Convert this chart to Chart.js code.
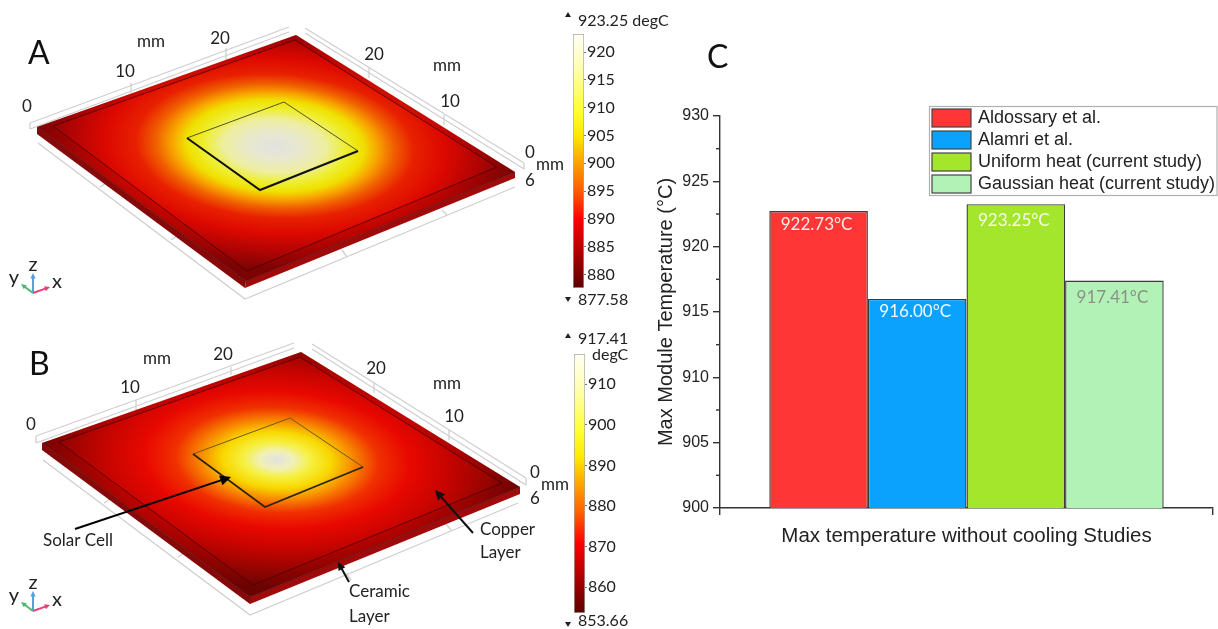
<!DOCTYPE html>
<html>
<head>
<meta charset="utf-8">
<title>Max module temperature</title>
<script src="https://cdn.jsdelivr.net/npm/chart.js@4/dist/chart.umd.min.js"></script>
<style>
  html, body { margin: 0; padding: 0; background: #fff; overflow: hidden; }
  canvas { position: absolute; filter: blur(0.45px); }
  #panels { left: 0; top: 0; }
  #barChart { left: 0; top: 0; }
  #barA { left: 560px; top: 34px; }
  #barB { left: 561px; top: 354px; }
</style>
</head>
<body>
<canvas id="panels" width="700" height="629"></canvas>
<canvas id="barA" width="70" height="254"></canvas>
<canvas id="barB" width="70" height="259"></canvas>
<canvas id="barChart" width="1218" height="629"></canvas>
<script>
// bar chart values
const categories = [''];
const aldossary = [922.73];
const alamri = [916.00];
const uniformHeat = [923.25];
const gaussianHeat = [917.41];
const yTicksMinor = [902.5, 907.5, 912.5, 917.5, 922.5, 927.5];

// colour bars
const ticksA = [880, 885, 890, 895, 900, 905, 910, 915, 920];
const rangeA = [877.58, 923.25];
const ticksB = [860, 870, 880, 890, 900, 910];
const rangeB = [853.66, 917.41];

const labelFont = 'Lato, "Open Sans", sans-serif';
const axisFont = '"Liberation Sans", Arial, sans-serif';

// plate A and B
const plateA = {
  top: [296, 35], right: [515, 172], front: [246, 281], left: [37, 127],
  rightLow: [515, 178], frontLow: [245, 288], leftLow: [37, 134],
  inner: [[295, 40], [497, 167], [247, 271], [53, 126]],
  centre: [275, 146],
  cell: [[284, 102], [358, 151], [260, 190], [187, 138]],
  cellBack: '#55551a', cellFront: '#111', cellBackWidth: 1, cellFrontWidth: 2,
  heat: [[0, '#e2e2e0'], [0.15, '#e8e8d0'], [0.3, '#eeeea0'], [0.42, '#eeee30'], [0.52, '#f0e000'],
         [0.6, '#f8a800'], [0.7, '#f06000'], [0.82, '#e82000'], [1.0, '#dc0800'], [1.2, '#b00404'], [1.4, '#800404']],
  guideBack: [[[30, 123], [289, 27]], [[30, 129], [289, 32]], [[305, 28], [524, 163]], [[305, 33], [524, 169]]],
  guideFront: [[38, 143], [245, 299], [515, 187]],
  ticks: [[131, 83, 131, 93], [226, 48, 226, 60], [369, 68, 369, 78], [444, 115, 444, 125],
          [100, 187, 106, 183], [171, 240, 177, 236], [347, 257, 342, 250], [447, 215, 442, 210]],
  labels: [['0', 27, 107], ['10', 125, 72], ['20', 220, 39], ['mm', 151, 42], ['20', 374, 55],
           ['mm', 447, 66], ['10', 450, 102], ['0', 530, 153], ['mm', 550, 165], ['6', 530, 181]],
  triad: [33, 293]
};
const plateB = {
  top: [301, 352], right: [520, 487], front: [250, 597], left: [42, 443],
  rightLow: [520, 494], frontLow: [250, 604], leftLow: [42, 450],
  inner: [[300, 357], [502, 483], [253, 585], [59, 442]],
  centre: [277, 460],
  cell: [[290, 418], [363, 467], [265, 507], [193, 454]],
  cellBack: '#6e5a10', cellFront: '#2a2208', cellBackWidth: 1, cellFrontWidth: 1.6,
  heat: [[0, '#e2e2e2'], [0.1, '#f0f0b8'], [0.2, '#f6f040'], [0.32, '#f8d800'], [0.45, '#f88800'],
         [0.6, '#f03000'], [0.78, '#e80800'], [1.0, '#c80400'], [1.2, '#a00400'], [1.45, '#6c0404']],
  guideBack: [[[36, 436], [294, 343]], [[36, 443], [294, 348]], [[312, 344], [526, 478]], [[312, 349], [526, 485]]],
  guideFront: [[43, 460], [250, 615], [518, 503]],
  ticks: [[136, 400, 136, 410], [231, 367, 231, 375], [374, 383, 374, 393], [449, 430, 449, 440],
          [104, 503, 110, 499], [178, 557, 184, 553], [351, 580, 346, 573], [451, 530, 446, 524]],
  labels: [['0', 31, 425], ['10', 130, 388], ['20', 223, 355], ['mm', 157, 359], ['20', 376, 369],
           ['mm', 447, 384], ['10', 454, 417], ['0', 535, 473], ['mm', 555, 485], ['6', 535, 499]],
  triad: [33, 611]
};

const colourStops = [[0, '#5c0000'], [0.14, '#b00000'], [0.27, '#ff0000'], [0.38, '#ff5a00'],
                     [0.49, '#ffa000'], [0.6, '#ffe800'], [0.7, '#ffff30'], [0.85, '#ffffa8'], [1, '#fffff6']];

function quad(ctx, pts) {
  ctx.beginPath();
  pts.forEach((p, i) => i ? ctx.lineTo(p[0], p[1]) : ctx.moveTo(p[0], p[1]));
  ctx.closePath();
}

function line(ctx, x1, y1, x2, y2) {
  ctx.beginPath();
  ctx.moveTo(x1, y1);
  ctx.lineTo(x2, y2);
  ctx.stroke();
}

function arrow(ctx, x1, y1, x2, y2, colour, width, head) {
  const a = Math.atan2(y2 - y1, x2 - x1);
  ctx.strokeStyle = colour;
  ctx.fillStyle = colour;
  ctx.lineWidth = width;
  line(ctx, x1, y1, x2 - Math.cos(a) * head * 0.7, y2 - Math.sin(a) * head * 0.7);
  ctx.beginPath();
  ctx.moveTo(x2, y2);
  ctx.lineTo(x2 - Math.cos(a - 0.45) * head, y2 - Math.sin(a - 0.45) * head);
  ctx.lineTo(x2 - Math.cos(a + 0.45) * head, y2 - Math.sin(a + 0.45) * head);
  ctx.closePath();
  ctx.fill();
}

function drawPlate(ctx, p) {
  // grey guide box behind the plate
  ctx.strokeStyle = '#cfcfcf';
  ctx.lineWidth = 1.3;
  p.guideBack.forEach(g => line(ctx, g[0][0], g[0][1], g[1][0], g[1][1]));
  line(ctx, p.guideBack[0][0][0], p.guideBack[0][0][1], p.guideBack[1][0][0], p.guideBack[1][0][1]);
  line(ctx, p.guideBack[2][1][0], p.guideBack[2][1][1], p.guideBack[3][1][0], p.guideBack[3][1][1]);
  ctx.beginPath();
  p.guideFront.forEach((g, i) => i ? ctx.lineTo(g[0], g[1]) : ctx.moveTo(g[0], g[1]));
  ctx.stroke();
  p.ticks.forEach(t => line(ctx, t[0], t[1], t[2], t[3]));

  // side faces
  ctx.fillStyle = '#860808';
  quad(ctx, [p.left, p.front, p.frontLow, p.leftLow]);
  ctx.fill();
  ctx.fillStyle = '#a00a0a';
  quad(ctx, [p.front, p.right, p.rightLow, p.frontLow]);
  ctx.fill();

  // heated top face, radial in plate coordinates
  const [T, R, F, L] = [p.top, p.right, p.front, p.left];
  const e1 = [((R[0] - T[0]) + (F[0] - L[0])) / 4, ((R[1] - T[1]) + (F[1] - L[1])) / 4];
  const e2 = [((L[0] - T[0]) + (F[0] - R[0])) / 4, ((L[1] - T[1]) + (F[1] - R[1])) / 4];
  ctx.save();
  quad(ctx, [T, R, F, L]);
  ctx.clip();
  ctx.transform(e1[0], e1[1], e2[0], e2[1], p.centre[0], p.centre[1]);
  const g = ctx.createRadialGradient(0, 0, 0, 0, 0, 1.45);
  p.heat.forEach(s => g.addColorStop(s[0] / 1.45, s[1]));
  ctx.fillStyle = g;
  ctx.fillRect(-3, -3, 6, 6);
  ctx.restore();

  // ledge of the lower layer, slightly darker than the copper top
  ctx.beginPath();
  [[T, R, F, L], p.inner].forEach(pts => {
    pts.forEach((q, i) => i ? ctx.lineTo(q[0], q[1]) : ctx.moveTo(q[0], q[1]));
    ctx.closePath();
  });
  ctx.fillStyle = 'rgba(110,0,0,0.2)';
  ctx.fill('evenodd');

  // inner layer outline
  ctx.strokeStyle = 'rgba(70,0,0,0.75)';
  ctx.lineWidth = 1;
  quad(ctx, p.inner);
  ctx.stroke();
  ctx.strokeStyle = 'rgba(60,0,0,0.5)';
  line(ctx, L[0], L[1], F[0], F[1]);
  line(ctx, F[0], F[1], R[0], R[1]);

  // solar cell
  const c = p.cell;
  ctx.strokeStyle = p.cellBack;
  ctx.lineWidth = p.cellBackWidth;
  ctx.beginPath();
  ctx.moveTo(c[3][0], c[3][1]);
  ctx.lineTo(c[0][0], c[0][1]);
  ctx.lineTo(c[1][0], c[1][1]);
  ctx.stroke();
  ctx.strokeStyle = p.cellFront;
  ctx.lineWidth = p.cellFrontWidth;
  ctx.beginPath();
  ctx.moveTo(c[1][0], c[1][1]);
  ctx.lineTo(c[2][0], c[2][1]);
  ctx.lineTo(c[3][0], c[3][1]);
  ctx.stroke();

  // axis labels
  ctx.fillStyle = '#222';
  ctx.font = '17px ' + labelFont;
  ctx.textAlign = 'center';
  ctx.textBaseline = 'middle';
  p.labels.forEach(l => ctx.fillText(l[0], l[1], l[2]));

  // xyz triad
  const [ox, oy] = p.triad;
  arrow(ctx, ox, oy, ox, oy - 20, '#5a9fd8', 2, 6);
  arrow(ctx, ox, oy, ox + 17, oy - 6, '#e8407a', 2, 6);
  arrow(ctx, ox, oy, ox - 12, oy - 9, '#4db870', 2, 6);
  ctx.fillStyle = '#222';
  ctx.font = '20px ' + labelFont;
  ctx.fillText('y', ox - 19, oy - 15);
  ctx.fillText('z', ox, oy - 28);
  ctx.fillText('x', ox + 24, oy - 11);
}

function drawPanels() {
  const ctx = document.getElementById('panels').getContext('2d');
  drawPlate(ctx, plateA);
  drawPlate(ctx, plateB);

  ctx.fillStyle = '#111';
  ctx.textAlign = 'left';
  ctx.textBaseline = 'middle';
  ctx.font = '32px ' + labelFont;
  ctx.fillText('A', 28, 54);
  ctx.fillText('B', 29, 365);

  // colour bar end labels
  ctx.fillStyle = '#222';
  ctx.font = '16px ' + labelFont;
  ctx.fillText('923.25 degC', 578, 21);
  ctx.fillText('877.58', 578, 300);
  ctx.fillText('917.41', 578, 339);
  ctx.fillText('degC', 592, 355);
  ctx.fillText('853.66', 578, 621);
  [[568, 15, -1], [568, 299, 1], [568, 336, -1], [568, 624, 1]].forEach(t => {
    ctx.beginPath();
    ctx.moveTo(t[0] - 3, t[1] - 2 * t[2]);
    ctx.lineTo(t[0] + 3, t[1] - 2 * t[2]);
    ctx.lineTo(t[0], t[1] + 3 * t[2]);
    ctx.closePath();
    ctx.fill();
  });

  // annotations on plate B
  arrow(ctx, 75, 529, 231, 477, '#000', 2, 12);
  arrow(ctx, 473, 533, 435, 490, '#111', 2, 11);
  arrow(ctx, 349, 582, 338, 562, '#111', 2, 9);
  ctx.fillStyle = '#222';
  ctx.font = '17px ' + labelFont;
  ctx.fillText('Solar Cell', 43, 541);
  ctx.fillText('Copper', 480, 530);
  ctx.fillText('Layer', 480, 553);
  ctx.fillText('Ceramic', 349, 592);
  ctx.fillText('Layer', 349, 617);
}

function makeColourbar(id, ticks, range) {
  new Chart(document.getElementById(id), {
    type: 'bar',
    data: {
      labels: categories,
      datasets: [{
        data: [range],
        barPercentage: 1,
        categoryPercentage: 1,
        borderColor: '#a8a8a0',
        borderWidth: 1,
        borderSkipped: false,
        backgroundColor: (context) => {
          const area = context.chart.chartArea;
          if (!area) return '#f00';
          const g = context.chart.ctx.createLinearGradient(0, area.bottom, 0, area.top);
          colourStops.forEach(s => g.addColorStop(s[0], s[1]));
          return g;
        }
      }]
    },
    options: {
      responsive: false,
      animation: false,
      layout: { padding: { left: 13, top: 0, bottom: 0, right: 0 } },
      plugins: { legend: { display: false }, tooltip: { enabled: false } },
      scales: {
        x: { display: false },
        y: {
          position: 'right',
          min: range[0],
          max: range[1],
          afterBuildTicks: (axis) => { axis.ticks = ticks.map(v => ({ value: v })); },
          afterFit: (axis) => {
            axis.width = 46;
            axis.paddingTop = 0;
            axis.paddingBottom = 0;
          },
          border: { display: false },
          grid: { drawOnChartArea: false, tickLength: 2, color: '#777' },
          ticks: {
            padding: 1,
            autoSkip: false,
            color: '#222',
            font: { family: labelFont, size: 16 },
            callback: (v) => String(v)
          }
        }
      }
    }
  });
}

const barLabelColours = ['#fbeaea', '#f2f8ff', '#f8fbe8', '#8a9088'];
const barLabelOffsets = [14, 13, 16, 17];

const valueLabels = {
  id: 'valueLabels',
  afterDatasetsDraw(chart) {
    const ctx = chart.ctx;
    ctx.save();
    ctx.font = '17px ' + labelFont;
    ctx.textAlign = 'center';
    ctx.textBaseline = 'middle';
    chart.data.datasets.forEach((ds, i) => {
      const bar = chart.getDatasetMeta(i).data[0];
      ctx.fillStyle = barLabelColours[i];
      ctx.fillText(ds.data[0].toFixed(2) + '°C', bar.x - 2, bar.y + barLabelOffsets[i]);
    });
    ctx.restore();
  }
};

const minorTicks = {
  id: 'minorTicks',
  afterDraw(chart) {
    const ctx = chart.ctx;
    const y = chart.scales.y;
    ctx.save();
    ctx.strokeStyle = '#333';
    ctx.lineWidth = 1.4;
    yTicksMinor.forEach(v => line(ctx, y.right, y.getPixelForValue(v), y.right - 4, y.getPixelForValue(v)));
    ctx.restore();
  }
};

const boxLegend = {
  id: 'boxLegend',
  afterDraw(chart) {
    const ctx = chart.ctx;
    const rows = [109, 131, 153, 175];
    ctx.save();
    ctx.fillStyle = '#fff';
    ctx.fillRect(929, 106, 288, 89);
    ctx.strokeStyle = '#b0b0b0';
    ctx.lineWidth = 1.2;
    ctx.strokeRect(929.5, 106.5, 287.5, 89);
    ctx.font = '18px ' + axisFont;
    ctx.textAlign = 'left';
    ctx.textBaseline = 'middle';
    chart.data.datasets.forEach((ds, i) => {
      ctx.fillStyle = ds.backgroundColor;
      ctx.strokeStyle = '#444';
      ctx.lineWidth = 1.2;
      ctx.fillRect(932, rows[i], 39, 18);
      ctx.strokeRect(932, rows[i], 39, 18);
      ctx.fillStyle = '#222';
      ctx.fillText(ds.label, 978, rows[i] + 9);
    });
    ctx.restore();
  }
};

const panelLetter = {
  id: 'panelLetter',
  afterDraw(chart) {
    const ctx = chart.ctx;
    ctx.save();
    ctx.fillStyle = '#111';
    ctx.font = '32px ' + labelFont;
    ctx.textAlign = 'left';
    ctx.textBaseline = 'middle';
    ctx.fillText('C', 707, 58);
    ctx.restore();
  }
};

function barDataset(label, data, colour) {
  return {
    label: label,
    data: data,
    backgroundColor: colour,
    borderColor: '#3c3c3c',
    borderWidth: 1.4,
    barPercentage: 1,
    categoryPercentage: 0.8
  };
}

drawPanels();
makeColourbar('barA', ticksA, rangeA);
makeColourbar('barB', ticksB, rangeB);

new Chart(document.getElementById('barChart'), {
  type: 'bar',
  data: {
    labels: categories,
    datasets: [
      barDataset('Aldossary et al.', aldossary, '#ff3636'),
      barDataset('Alamri et al.', alamri, '#0ba2fd'),
      barDataset('Uniform heat (current study)', uniformHeat, '#a3e62b'),
      barDataset('Gaussian heat (current study)', gaussianHeat, '#b3f2b7')
    ]
  },
  plugins: [valueLabels, minorTicks, boxLegend, panelLetter],
  options: {
    responsive: false,
    animation: false,
    layout: { padding: { left: 654, top: 116, right: 5, bottom: 80 } },
    plugins: { legend: { display: false }, tooltip: { enabled: false } },
    scales: {
      x: {
        afterFit: (axis) => { axis.height = 41; },
        border: { color: '#333', width: 1.4 },
        grid: { drawOnChartArea: false, tickLength: 7, color: '#333', lineWidth: 1.4 },
        ticks: { display: true },
        title: {
          display: true,
          text: 'Max temperature without cooling Studies',
          color: '#222',
          font: { family: axisFont, size: 20.5 },
          padding: { top: 0, bottom: 0 }
        }
      },
      y: {
        min: 900,
        max: 930,
        afterFit: (axis) => { axis.width = 66; },
        border: { color: '#333', width: 1.4 },
        grid: { drawOnChartArea: false, tickLength: 7, color: '#333', lineWidth: 1.4 },
        ticks: {
          stepSize: 5,
          padding: 4,
          color: '#222',
          font: { family: axisFont, size: 16 }
        },
        title: {
          display: true,
          text: 'Max Module Temperature (°C)',
          color: '#222',
          font: { family: axisFont, size: 20 },
          padding: { top: 0, bottom: 0 }
        }
      }
    }
  }
});
</script>
</body>
</html>
